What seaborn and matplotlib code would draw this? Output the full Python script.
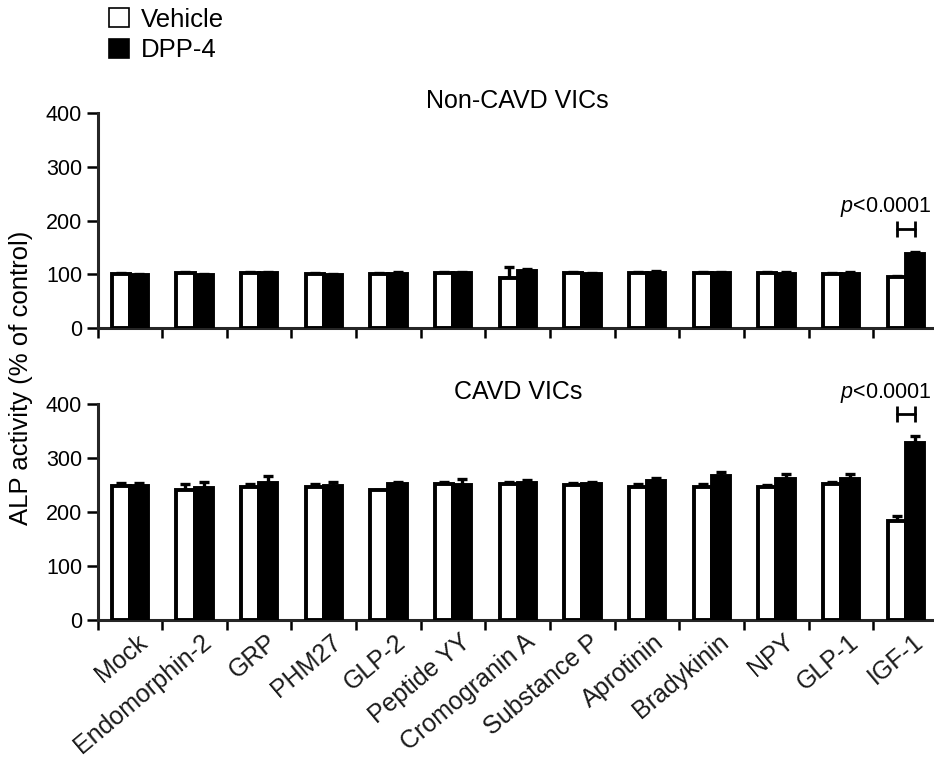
import numpy as np
import pandas as pd
import matplotlib
matplotlib.use('Agg')
import matplotlib.pyplot as plt
import matplotlib.transforms as mtransforms
from matplotlib.patches import Patch
import seaborn as sns

# data (ALP activity, % of control)
peptides = ['Mock', 'Endomorphin-2', 'GRP', 'PHM27', 'GLP-2', 'Peptide YY',
            'Cromogranin A', 'Substance P', 'Aprotinin', 'Bradykinin', 'NPY',
            'GLP-1', 'IGF-1']
treatments = ['Vehicle', 'DPP-4']

non_vehicle = [100, 103, 103, 100, 100, 102, 93, 102, 102, 103, 102, 100, 95]
non_vehicle_err = [2, 2, 2, 2, 2, 2, 20, 2, 2, 2, 2, 2, 2]
non_dpp4 = [99, 99, 102, 99, 100, 102, 106, 101, 102, 103, 100, 100, 138]
non_dpp4_err = [2, 2, 2, 2, 5, 2, 4, 2, 4, 2, 4, 4, 4]

cavd_vehicle = [248, 241, 246, 246, 241, 252, 252, 249, 247, 247, 246, 252, 183]
cavd_vehicle_err = [6, 10, 6, 6, 0, 4, 4, 4, 5, 5, 3, 4, 10]
cavd_dpp4 = [248, 244, 254, 248, 251, 250, 254, 251, 258, 267, 260, 260, 327]
cavd_dpp4_err = [6, 12, 12, 8, 5, 10, 5, 5, 5, 6, 10, 10, 14]

panel_titles = ['Non-CAVD VICs', 'CAVD VICs']
p_label = r'$p$<0.0001'

sns.set_style('ticks')
plt.rcParams['font.family'] = ['Liberation Sans', 'DejaVu Sans']
plt.rcParams['mathtext.fontset'] = 'custom'
plt.rcParams['mathtext.it'] = 'Liberation Sans:italic'
plt.rcParams['mathtext.rm'] = 'Liberation Sans'
plt.rcParams['text.color'] = 'black'
plt.rcParams['xtick.color'] = 'black'
plt.rcParams['ytick.color'] = 'black'


def draw_panel(ax, vehicle, vehicle_err, dpp4, dpp4_err, title, title_pad,
               bracket_y, text_y):
    n = len(peptides)
    df = pd.DataFrame({
        'peptide': peptides * 2,
        'treatment': ['Vehicle'] * n + ['DPP-4'] * n,
        'value': vehicle + dpp4,
    })
    sns.barplot(data=df, x='peptide', y='value', hue='treatment',
                hue_order=treatments, order=peptides,
                palette={'Vehicle': 'white', 'DPP-4': 'black'},
                edgecolor='black', linewidth=2.8, width=0.56,
                errorbar=None, legend=False, ax=ax, zorder=3)

    # upper-only error bars
    for cont, errs in zip(ax.containers, [vehicle_err, dpp4_err]):
        xs = [p.get_x() + p.get_width() / 2 for p in cont]
        hs = [p.get_height() for p in cont]
        ax.errorbar(xs, hs, yerr=[np.zeros(len(errs)), errs], fmt='none',
                    ecolor='black', elinewidth=2.4, capsize=3.5, capthick=2.4,
                    zorder=2)

    # significance bracket on IGF-1
    pv = ax.containers[0][-1]
    pd4 = ax.containers[1][-1]
    xv = pv.get_x() + pv.get_width() / 2
    xd = pd4.get_x() + pd4.get_width() / 2
    ax.plot([xv, xd], [bracket_y, bracket_y], color='black', lw=2,
            marker='|', markersize=11, mew=2, clip_on=False)
    tr = mtransforms.blended_transform_factory(ax.transAxes, ax.transData)
    ax.text(0.9925, text_y, p_label, ha='right', va='baseline',
            fontsize=15.5, clip_on=False, transform=tr)

    ax.set_ylim(0, 400)
    ax.set_yticks([0, 100, 200, 300, 400])
    ax.set_xlim(-0.5, len(peptides) - 0.5)
    ax.set_xticks(np.arange(len(peptides)))
    ax.set_xticks(np.arange(len(peptides) + 1) - 0.5, minor=True)
    ax.tick_params(axis='x', which='major', length=0, pad=12)
    ax.tick_params(axis='x', which='minor', length=7, width=1.8,
                   direction='out')
    ax.tick_params(axis='y', length=8, width=1.8, labelsize=15.5, pad=3)
    ax.set_xlabel('')
    ax.set_ylabel('')
    for side in ['top', 'right']:
        ax.spines[side].set_visible(False)
    for side in ['left', 'bottom']:
        ax.spines[side].set_linewidth(2.2)
    ax.set_title(title, fontsize=18, pad=title_pad)


fig = plt.figure(figsize=(9.34, 7.63), dpi=100)
ax_top = fig.add_axes([0.1044, 0.570, 0.90, 0.282])
ax_bot = fig.add_axes([0.1044, 0.187, 0.90, 0.284])

draw_panel(ax_top, non_vehicle, non_vehicle_err, non_dpp4, non_dpp4_err,
           panel_titles[0], 0, 184, 216)
draw_panel(ax_bot, cavd_vehicle, cavd_vehicle_err, cavd_dpp4, cavd_dpp4_err,
           panel_titles[1], 3, 380, 411)

ax_top.set_xticklabels([])
ax_bot.set_xticklabels(peptides, rotation=40, ha='right', va='center',
                       rotation_mode='anchor', fontsize=18, color='#1a1a1a')
shift = mtransforms.ScaledTranslation(0.14, -0.02, fig.dpi_scale_trans)
for lab in ax_bot.get_xticklabels():
    lab.set_transform(lab.get_transform() + shift)

fig.text(0.022, 0.505, 'ALP activity (% of control)', rotation=90,
         ha='center', va='center', fontsize=18.5)

handles = [Patch(facecolor='white', edgecolor='black', linewidth=1.2),
           Patch(facecolor='black', edgecolor='black', linewidth=1.2)]
fig.legend(handles, treatments, loc='upper left', bbox_to_anchor=(0.1, 1.01),
           frameon=False, fontsize=18.5, handlelength=0.8, handleheight=0.75,
           handletextpad=0.45, labelspacing=0.25, borderaxespad=0.2)

fig.savefig('out.png', dpi=100)
